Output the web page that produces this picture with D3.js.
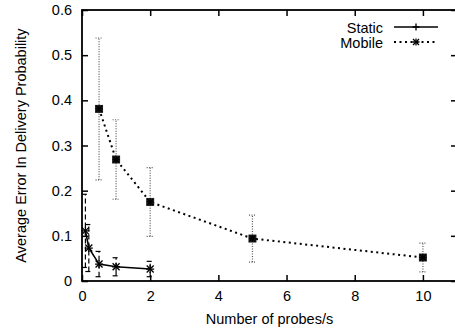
<!DOCTYPE html>
<html>
<head>
<meta charset="utf-8">
<script src="https://cdn.jsdelivr.net/npm/d3@7"></script>
<style>
  html, body { margin: 0; padding: 0; background: #fff; }
  svg text { font-family: "Liberation Sans", Arial, Helvetica, sans-serif; fill: #000; }
</style>
</head>
<body>
<svg id="chart" width="455" height="330"></svg>
<script>
// ==================== DATA ====================
const xTicks = [0, 2, 4, 6, 8, 10];
const yTicks = [0, 0.1, 0.2, 0.3, 0.4, 0.5, 0.6];

const staticX = [0.1, 0.2, 0.5, 1, 2];
const staticY = [0.111, 0.073, 0.0375, 0.0315, 0.0265];
const staticErr = [0.081, 0.052, 0.028, 0.02, 0.017];

const mobileX = [0.5, 1, 2, 5, 10];
const mobileY = [0.381, 0.269, 0.175, 0.094, 0.052];
const mobileErr = [0.157, 0.088, 0.076, 0.052, 0.032];

const seriesNames = ['Static', 'Mobile'];

// ==================== LAYOUT ====================
const margin = { top: 10, right: -2, bottom: 49, left: 82 };
const width = 455, height = 330;
const w = width - margin.left - margin.right;
const h = height - margin.top - margin.bottom;

const svg = d3.select('#chart');
const g = svg.append('g').attr('transform', `translate(${margin.left},${margin.top})`);

const x = d3.scaleLinear().domain([0, 11]).range([0, w]);
const y = d3.scaleLinear().domain([0, 0.6]).range([h, 0]);

const fontSize = '14.5px';

// ==================== AXES (gnuplot style, ticks inward, mirrored) ====================
g.append('g')
  .attr('transform', `translate(0,${h})`)
  .call(d3.axisBottom(x).tickValues(xTicks).tickSizeInner(-6).tickSizeOuter(0).tickPadding(10))
  .call(a => a.select('.domain').remove())
  .call(a => a.selectAll('text').style('font-size', fontSize));

g.append('g')
  .call(d3.axisTop(x).tickValues(xTicks).tickSizeInner(-6).tickSizeOuter(0).tickFormat(''))
  .call(a => a.select('.domain').remove());

g.append('g')
  .call(d3.axisLeft(y).tickValues(yTicks).tickSizeInner(-6).tickSizeOuter(0).tickPadding(10)
    .tickFormat(d => d === 0 ? '0' : d3.format('.1f')(d)))
  .call(a => a.select('.domain').remove())
  .call(a => a.selectAll('text').style('font-size', fontSize));

g.append('g')
  .attr('transform', `translate(${w},0)`)
  .call(d3.axisRight(y).tickValues(yTicks).tickSizeInner(-6).tickSizeOuter(0).tickFormat(''))
  .call(a => a.select('.domain').remove());

g.selectAll('.tick line').attr('stroke', '#000').attr('stroke-width', 1.5);

g.append('rect')
  .attr('x', 0).attr('y', 0).attr('width', w).attr('height', h)
  .attr('fill', 'none').attr('stroke', '#000').attr('stroke-width', 1.8);

// titles
svg.append('text')
  .attr('x', margin.left + w / 2)
  .attr('y', 324)
  .attr('text-anchor', 'middle')
  .style('font-size', fontSize)
  .text('Number of probes/s');

svg.append('text')
  .attr('transform', `translate(26,${margin.top + h / 2}) rotate(-90)`)
  .attr('text-anchor', 'middle')
  .style('font-size', fontSize)
  .text('Average Error In Delivery Probability');

// ==================== HELPERS ====================
const capHalf = 3.5;

function errorBars(xs, ys, errs, dash, color, width) {
  const eg = g.append('g')
    .attr('stroke', color)
    .attr('stroke-width', width)
    .attr('stroke-dasharray', dash)
    .attr('fill', 'none');
  xs.forEach((xv, i) => {
    const lo = ys[i] - errs[i], hi = ys[i] + errs[i];
    eg.append('line')
      .attr('x1', x(xv)).attr('x2', x(xv))
      .attr('y1', y(lo)).attr('y2', y(hi));
    [lo, hi].forEach(v => {
      eg.append('line')
        .attr('x1', x(xv) - capHalf).attr('x2', x(xv) + capHalf)
        .attr('y1', y(v)).attr('y2', y(v));
    });
  });
}

function plus(sel, cx, cy, r) {
  sel.append('path')
    .attr('d', `M${cx - r},${cy}H${cx + r}M${cx},${cy - r}V${cy + r}`)
    .attr('stroke', '#000').attr('stroke-width', 1.3).attr('fill', 'none');
}

function cross(sel, cx, cy, r) {
  sel.append('path')
    .attr('d', `M${cx - r},${cy - r}L${cx + r},${cy + r}M${cx - r},${cy + r}L${cx + r},${cy - r}`)
    .attr('stroke', '#000').attr('stroke-width', 1.3).attr('fill', 'none');
}

function square(sel, cx, cy, r) {
  sel.append('rect')
    .attr('x', cx - r).attr('y', cy - r)
    .attr('width', 2 * r).attr('height', 2 * r)
    .attr('fill', '#222');
}

const line = d3.line().x(d => x(d[0])).y(d => y(d[1]));

// ==================== STATIC ====================
errorBars(staticX, staticY, staticErr, '5,3', '#000', 1.2);

g.append('path')
  .datum(staticX.map((v, i) => [v, staticY[i]]))
  .attr('d', line)
  .attr('fill', 'none')
  .attr('stroke', '#000')
  .attr('stroke-width', 1.6);

const sp = g.append('g');
staticX.forEach((v, i) => {
  plus(sp, x(v), y(staticY[i]), 4);
  cross(sp, x(v), y(staticY[i]), 3.5);
});

// ==================== MOBILE ====================
errorBars(mobileX, mobileY, mobileErr, '1,1.5', '#555', 1.2);

g.append('path')
  .datum(mobileX.map((v, i) => [v, mobileY[i]]))
  .attr('d', line)
  .attr('fill', 'none')
  .attr('stroke', '#000')
  .attr('stroke-width', 2)
  .attr('stroke-dasharray', '2,3.5');

const mp = g.append('g');
mobileX.forEach((v, i) => {
  square(mp, x(v), y(mobileY[i]), 4);
  plus(mp, x(v), y(mobileY[i]), 3.5);
  cross(mp, x(v), y(mobileY[i]), 3);
});

// ==================== LEGEND ====================
const legend = svg.append('g');
const legendRows = [27, 42];
const sampleX1 = 394, sampleX2 = 438, textRight = 383;

seriesNames.forEach((name, i) => {
  const ly = legendRows[i];
  legend.append('text')
    .attr('x', textRight)
    .attr('y', ly + 5.5)
    .attr('text-anchor', 'end')
    .style('font-size', fontSize)
    .text(name);
  legend.append('line')
    .attr('x1', sampleX1).attr('x2', sampleX2)
    .attr('y1', ly).attr('y2', ly)
    .attr('stroke', '#000')
    .attr('stroke-width', i === 0 ? 1.6 : 2)
    .attr('stroke-dasharray', i === 0 ? null : '2,3.5');
  const cx = (sampleX1 + sampleX2) / 2;
  plus(legend, cx, ly, 3.5);
  if (i === 1) cross(legend, cx, ly, 3);
});
</script>
</body>
</html>
